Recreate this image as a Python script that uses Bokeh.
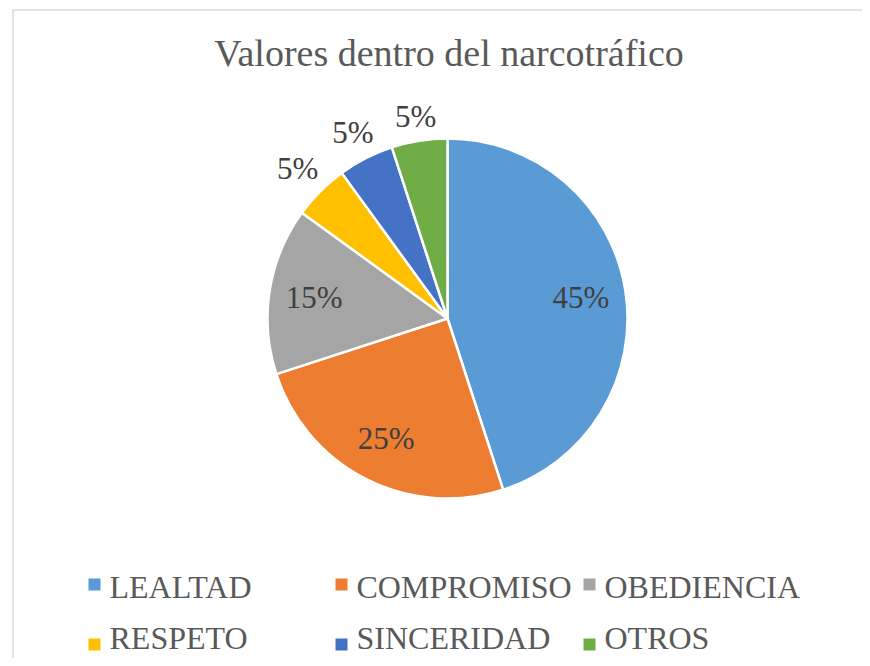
import math
from bokeh.plotting import figure
from bokeh.models import Range1d, ColumnDataSource
from bokeh.core.properties import value
from bokeh.embed import file_html
from bokeh.resources import INLINE

title = "Valores dentro del narcotráfico"
categories = ["LEALTAD", "COMPROMISO", "OBEDIENCIA", "RESPETO", "SINCERIDAD", "OTROS"]
shares = [45, 25, 15, 5, 5, 5]
colors = ["#5B9BD5", "#ED7D31", "#A5A5A5", "#FFC000", "#4472C4", "#70AD47"]

W, H = 862, 658
FONT = "Liberation Serif"
TXT = "#595959"

def Y(img_y):
    return H - img_y

def X(img_x):
    return img_x

p = figure(width=W, height=H, output_backend="svg", toolbar_location=None,
           x_range=Range1d(0, W), y_range=Range1d(0, H), min_border=0)
p.axis.visible = False
p.grid.visible = False
p.outline_line_color = None
p.background_fill_color = "white"
p.border_fill_color = "white"

# chart area border
p.quad(left=X(12.5), right=X(900), bottom=Y(700), top=Y(9.5),
       fill_color=None, line_color="#D9D9D9", line_width=1.5)

# title
p.text(x=[X(448.5)], y=[Y(52)], text=[title], text_font=value(FONT),
       text_font_size="38px", text_color=TXT, text_align="center",
       text_baseline="middle")

# pie
cx, cy, R = X(447), Y(318), 180
total = float(sum(shares))
starts, ends, mids = [], [], []
acc = 0.0
for v in shares:
    a0 = math.pi / 2 - acc / total * 2 * math.pi
    acc += v
    a1 = math.pi / 2 - acc / total * 2 * math.pi
    starts.append(a0); ends.append(a1); mids.append((a0 + a1) / 2)

src = ColumnDataSource(dict(start=starts, end=ends, color=colors))
p.wedge(x=cx, y=cy, radius=R, start_angle="start", end_angle="end",
        direction="clock", fill_color="color", line_color="white",
        line_width=2.5, source=src)

lx, ly, lt = [], [], []
for v, m in zip(shares, mids):
    if v / total >= 0.1:
        r = 0.75 * R
    else:
        r = R + 22 + 14 * abs(math.cos(m))
    lx.append(cx + r * math.cos(m))
    ly.append(cy + r * math.sin(m))
    lt.append(f"{v}%")
p.text(x=lx, y=ly, text=lt, text_font=value(FONT), text_font_size="31px",
       text_color="#404040", text_align="center", text_baseline="middle")

# legend
col_x = [X(88), X(335), X(583)]
row_sq = [Y(584), Y(644)]
row_mid = [Y(586), Y(637)]
sq = 12
sx, sy, tx, ty = [], [], [], []
for i, c in enumerate(categories):
    r, k = divmod(i, 3)
    sx.append(col_x[k] + sq / 2); sy.append(row_sq[r])
    tx.append(col_x[k] + 21); ty.append(row_mid[r])
p.rect(x=sx, y=sy, width=sq, height=sq, fill_color=colors, line_color=None)
p.text(x=tx, y=ty, text=categories, text_font=value(FONT), text_font_size="32px",
       text_color=TXT, text_align="left", text_baseline="middle")

open("out.html", "w").write(file_html(p, INLINE))
